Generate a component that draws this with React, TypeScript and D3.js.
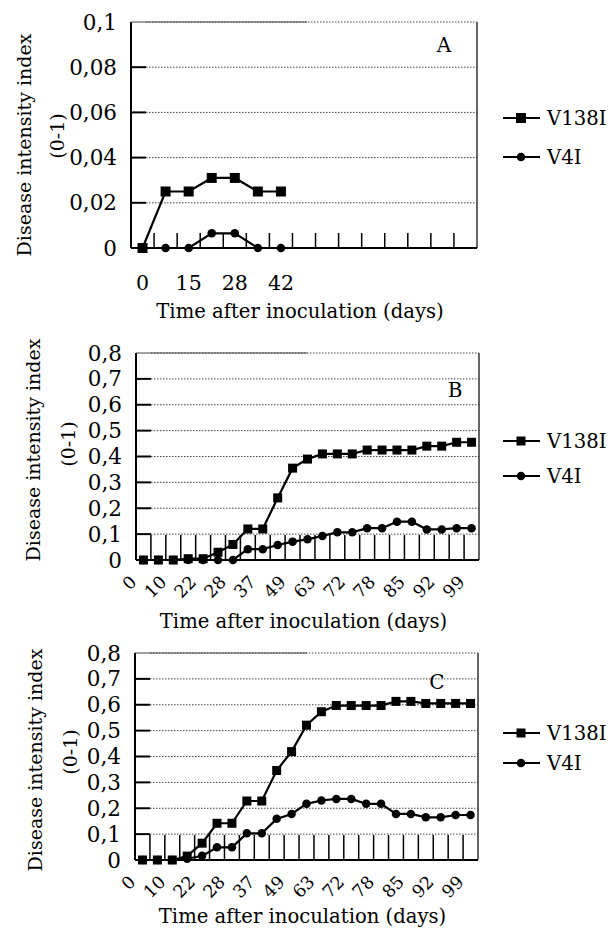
import React from "react";
import * as d3 from "d3";

const W = 610;
const H = 928;
const FONT = "'DejaVu Serif', 'Liberation Serif', serif";

const seriesNames = ["V138I", "V4I"];
const xTitle = "Time after inoculation (days)";
const yTitle1 = "Disease intensity index";
const yTitle2 = "(0-1)";

// panel A
const labelsA = ["0", "", "15", "", "28", "", "42", "", "", "", "", "", "", "", ""];
const v138A = [0, 0.025, 0.025, 0.031, 0.031, 0.025, 0.025];
const v4iA = [0, 0, 0, 0.0065, 0.0065, 0, 0];
const yTicksA = [0, 0.02, 0.04, 0.06, 0.08, 0.1];

// panels B and C share the x categories
const labelsBC = ["0", "", "10", "", "22", "", "28", "", "37", "", "49", "", "63", "", "72", "", "78", "", "85", "", "92", "", "99"];
const yTicksBC = [0, 0.1, 0.2, 0.3, 0.4, 0.5, 0.6, 0.7, 0.8];

const v138B = [0, 0, 0, 0.005, 0.005, 0.03, 0.06, 0.12, 0.12, 0.24, 0.355, 0.39, 0.41, 0.41, 0.41, 0.425, 0.425, 0.425, 0.425, 0.44, 0.44, 0.455, 0.455];
const v4iB = [0, 0, 0, 0, 0, 0, 0, 0.042, 0.042, 0.058, 0.071, 0.08, 0.093, 0.107, 0.107, 0.123, 0.123, 0.148, 0.148, 0.118, 0.118, 0.123, 0.123];

const v138C = [0, 0, 0, 0.015, 0.065, 0.142, 0.142, 0.228, 0.228, 0.346, 0.419, 0.521, 0.573, 0.597, 0.597, 0.597, 0.597, 0.613, 0.613, 0.605, 0.605, 0.605, 0.605];
const v4iC = [0, 0, 0, 0.005, 0.016, 0.049, 0.049, 0.103, 0.103, 0.159, 0.178, 0.217, 0.23, 0.236, 0.236, 0.217, 0.217, 0.178, 0.178, 0.165, 0.165, 0.174, 0.174];

const fmt = (d: number) => (d === 0 ? "0" : String(+d.toFixed(2)).replace(".", ","));

type PanelProps = {
  box: { l: number; r: number; t: number; b: number };
  yTicks: number[];
  labels: string[];
  s1: number[];
  s2: number[];
  rotate: boolean;
  xTickLen: number;
  letter: string;
  letterAt: [number, number];
  legendY: [number, number];
  xTitleY: number;
  yTitleX: [number, number];
  yTitleY: [number, number];
  sq: number;
  dot: number;
};

function Marker({ kind, cx, cy, sq, dot }: { kind: number; cx: number; cy: number; sq: number; dot: number }) {
  return kind === 0 ? (
    <rect x={cx - sq / 2} y={cy - sq / 2} width={sq} height={sq} fill="#000" />
  ) : (
    <circle cx={cx} cy={cy} r={dot / 2} fill="#000" />
  );
}

function Panel(p: PanelProps) {
  const { box } = p;
  const x = d3.scaleBand<number>().domain(d3.range(p.labels.length)).range([box.l, box.r]);
  const cx = (i: number) => (x(i) as number) + x.bandwidth() / 2;
  const y = d3.scaleLinear().domain([0, p.yTicks[p.yTicks.length - 1]]).range([box.b, box.t]);
  const line = d3.line<number>().x((_, i) => cx(i)).y((d) => y(d));
  const series = [p.s1, p.s2];
  const yTickLen = 15;

  return (
    <g fontFamily={FONT} fill="#000">
      {/* gridlines */}
      {p.yTicks.slice(1).map((t) => (
        <line key={"g" + t} x1={box.l + yTickLen} x2={box.r} y1={y(t)} y2={y(t)} stroke="#444" strokeWidth={1} strokeDasharray="1.5 1.5" />
      ))}
      {/* y tick marks */}
      {p.yTicks.slice(1, -1).map((t) => (
        <line key={"yt" + t} x1={box.l} x2={box.l + yTickLen} y1={y(t)} y2={y(t)} stroke="#000" strokeWidth={2} />
      ))}
      {/* x tick marks at category boundaries */}
      {d3.range(1, p.labels.length).map((i) => (
        <line key={"xt" + i} x1={x(i)} x2={x(i)} y1={box.b} y2={box.b - p.xTickLen} stroke="#000" strokeWidth={1.5} />
      ))}
      {/* frame */}
      <line x1={box.r} x2={box.r} y1={box.t} y2={box.b} stroke="#333" strokeWidth={1.5} />
      <line x1={box.l} x2={box.r} y1={box.b} y2={box.b} stroke="#000" strokeWidth={2} />
      <line x1={box.l} x2={box.l} y1={box.t} y2={box.b} stroke="#000" strokeWidth={2} />
      <line x1={box.l} x2={307} y1={box.t} y2={box.t} stroke="#444" strokeWidth={1.2} />

      {/* series */}
      {series.map((s, k) => (
        <g key={"s" + k}>
          <path d={line(s) as string} fill="none" stroke="#000" strokeWidth={2.2} />
          {s.map((d, i) => (
            <Marker key={i} kind={k} cx={cx(i)} cy={y(d)} sq={p.sq} dot={p.dot} />
          ))}
        </g>
      ))}

      {/* y tick labels */}
      {p.yTicks.map((t) => (
        <text key={"yl" + t} x={box.l - 14} y={y(t)} textAnchor="end" dominantBaseline="central" fontSize={21.5}>
          {fmt(t)}
        </text>
      ))}
      {/* x tick labels */}
      {p.labels.map((lab, i) =>
        lab === "" ? null : p.rotate ? (
          <text key={"xl" + i} transform={`translate(${cx(i) - 10},${box.b + 19}) rotate(-45)`} textAnchor="end" dominantBaseline="central" fontSize={17.5}>
            {lab}
          </text>
        ) : (
          <text key={"xl" + i} x={cx(i)} y={box.b + 35} textAnchor="middle" dominantBaseline="central" fontSize={20.5}>
            {lab}
          </text>
        )
      )}
      {/* titles */}
      <text x={(box.l + box.r) / 2 - 4} y={p.xTitleY} textAnchor="middle" dominantBaseline="central" fontSize={19.6}>
        {xTitle}
      </text>
      <text transform={`translate(${p.yTitleX[0]},${p.yTitleY[0]}) rotate(-90)`} textAnchor="middle" dominantBaseline="central" fontSize={19}>
        {yTitle1}
      </text>
      <text transform={`translate(${p.yTitleX[1]},${p.yTitleY[1]}) rotate(-90)`} textAnchor="middle" dominantBaseline="central" fontSize={19}>
        {yTitle2}
      </text>
      <text x={p.letterAt[0]} y={p.letterAt[1]} textAnchor="middle" dominantBaseline="central" fontSize={20}>
        {p.letter}
      </text>

      {/* legend */}
      {seriesNames.map((name, k) => (
        <g key={name}>
          <line x1={503} x2={540} y1={p.legendY[k]} y2={p.legendY[k]} stroke="#000" strokeWidth={2.2} />
          <Marker kind={k} cx={521} cy={p.legendY[k]} sq={p.sq} dot={p.dot} />
          <text x={547} y={p.legendY[k]} dominantBaseline="central" fontSize={19.7}>
            {name}
          </text>
        </g>
      ))}
    </g>
  );
}

export default function App() {
  return (
    <svg width={W} height={H} style={{ position: "absolute", left: 0, top: 0, background: "#fff" }}>
      <rect width={W} height={H} fill="#fff" />
      <Panel
        box={{ l: 131, r: 477, t: 22, b: 248 }}
        yTicks={yTicksA}
        labels={labelsA}
        s1={v138A}
        s2={v4iA}
        rotate={false}
        xTickLen={15}
        letter="A"
        letterAt={[444, 45]}
        legendY={[118, 157]}
        xTitleY={311}
        yTitleX={[24, 57]}
        yTitleY={[145, 136]}
        sq={10}
        dot={8.5}
      />
      <Panel
        box={{ l: 136, r: 479, t: 353, b: 560 }}
        yTicks={yTicksBC}
        labels={labelsBC}
        s1={v138B}
        s2={v4iB}
        rotate={true}
        xTickLen={25}
        letter="B"
        letterAt={[455, 390]}
        legendY={[441, 476]}
        xTitleY={621}
        yTitleX={[33, 68]}
        yTitleY={[450, 444]}
        sq={9}
        dot={8.5}
      />
      <Panel
        box={{ l: 135, r: 478, t: 653, b: 860 }}
        yTicks={yTicksBC}
        labels={labelsBC}
        s1={v138C}
        s2={v4iC}
        rotate={true}
        xTickLen={25}
        letter="C"
        letterAt={[437, 682]}
        legendY={[733, 763]}
        xTitleY={916}
        yTitleX={[35, 70]}
        yTitleY={[760, 752]}
        sq={9}
        dot={8.5}
      />
    </svg>
  );
}
